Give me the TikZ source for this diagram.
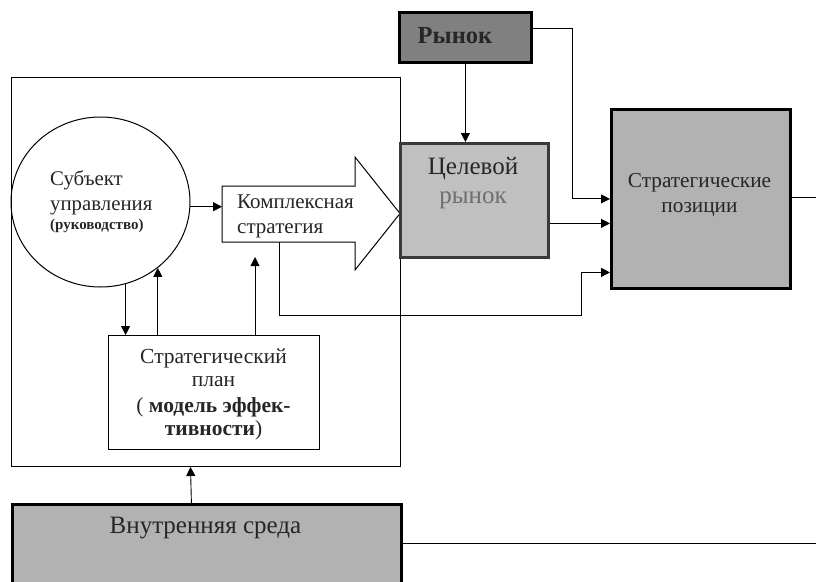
\documentclass[tikz,border=0pt]{standalone}
\usepackage{fontspec}
\setmainfont{Liberation Serif}
\usetikzlibrary{arrows.meta,shapes.geometric,calc}
\definecolor{rynokfill}{HTML}{808080}
\definecolor{celfill}{HTML}{C0C0C0}
\definecolor{celborder}{HTML}{3A3A3A}
\definecolor{stratfill}{HTML}{B2B2B2}
\definecolor{txt}{HTML}{262626}
\definecolor{txtgray}{HTML}{6E6E6E}
\newcommand{\fs}[1]{\fontsize{#1}{#1}\selectfont}
\begin{document}
\begin{tikzpicture}[x=1pt,y=-1pt,
  arr/.style={-{Triangle[length=9pt,width=9pt]},line width=0.9pt},
  conn/.style={line width=0.9pt},
  thinbox/.style={draw,line width=1pt,inner sep=0pt,anchor=north west},
  heavybox/.style={draw,line width=2.8pt,inner sep=0pt,anchor=north west},
  lbl/.style={inner sep=0pt,text=txt}]
\clip (0,0) rectangle (816,581);
\fill[white] (0,0) rectangle (816,581);

% outer frame
\node[thinbox,minimum width=389pt,minimum height=389pt] (frame) at (11,77) {};

% subject circle
\node[draw,ellipse,line width=1pt,minimum width=179pt,minimum height=170pt,inner sep=0pt] (subj) at (100.5,202) {};
\node[lbl,anchor=base west] (s1) at (50,185) {\fs{20.8}Субъект};
\node[lbl,anchor=base west] (s2) at (50,210) {\fs{20.8}управления};
\node[lbl,anchor=base west] (s3) at (50,229) {\fs{15}\bfseries (руководство)};

% complex strategy arrow
\node[inner sep=0pt,minimum width=133pt,minimum height=56pt,anchor=north west] (cplx) at (222,186) {};
\draw[line width=1pt,fill=white] (222,186) -- (355,186) -- (355,157) -- (400,213.5) -- (355,270) -- (355,242) -- (222,242) -- cycle;
\node[lbl,anchor=base west] (c1) at (237,208) {\fs{21}Комплексная};
\node[lbl,anchor=base west] (c2) at (237,233) {\fs{21}стратегия};

% strategic plan
\node[thinbox,fill=white,minimum width=211pt,minimum height=114pt] (plan) at (108,335) {};
\node[lbl,anchor=base] (p1) at (213.5,363) {\fs{21.5}Стратегический};
\node[lbl,anchor=base] (p2) at (213.5,386) {\fs{21.5}план};
\node[lbl,anchor=base] (p3) at (213.5,412) {\fs{21.5}( \textbf{модель эффек-}};
\node[lbl,anchor=base] (p4) at (213.5,435) {\fs{21.5}\textbf{тивности})};

% market
\node[heavybox,fill=rynokfill,minimum width=132pt,minimum height=50pt] (rynok) at (398,11) {};
\node[lbl,anchor=base] (r1) at (455,43) {\fs{24.5}\bfseries Рынок};

% target market
\node[heavybox,draw=celborder,fill=celfill,minimum width=148pt,minimum height=114pt] (cel) at (399,142) {};
\node[lbl,anchor=base] (t1) at (473,174) {\fs{25}Целевой};
\node[lbl,anchor=base,text=txtgray] (t2) at (473,203) {\fs{25}рынок};

% strategic positions
\node[heavybox,fill=stratfill,minimum width=179pt,minimum height=179pt] (strat) at (610,108) {};
\node[lbl,anchor=base] (g1) at (699.5,187) {\fs{21.3}Стратегические};
\node[lbl,anchor=base] (g2) at (699.5,212) {\fs{21.3}позиции};

% internal environment
\node[heavybox,fill=stratfill,minimum width=389pt,minimum height=120pt] (vnutr) at (11,503) {};
\node[lbl,anchor=base] (v1) at (205.5,533) {\fs{25}Внутренняя среда};

% coordinates
\coordinate (upc) at (255,257);
\coordinate (bendA) at (581,315);
\coordinate (rightA) at (816,197.5);
\coordinate (rightB) at (816,543);

% connectors
\draw[arr] (subj.-3) -- (subj.-3 -| cplx.west);
\draw[arr] (subj.-73) -- (subj.-73 |- plan.north);
\draw[arr] (subj.-49 |- plan.north) -- (subj.-49);
\draw[arr] (upc |- plan.north) -- (upc);
\draw[arr] ([xshift=57pt]cplx.south west) |- (bendA) |- ([yshift=-73.5pt]strat.west);
\draw[arr] (rynok.south) -- (rynok.south |- cel.north);
\draw[arr] ([yshift=9pt]rynok.east) -- ++(40,0) |- (strat.west);
\draw[arr] ([yshift=-23pt]cel.east) -- ([yshift=-23pt]cel.east -| strat.west);
\draw[conn] (strat.east |- rightA) -- (rightA);
\draw[arr] ([xshift=-15.5pt]vnutr.north) -- ([xshift=-15.5pt]frame.south);
\draw[conn] (vnutr.east |- rightB) -- (rightB);
\end{tikzpicture}
\end{document}
